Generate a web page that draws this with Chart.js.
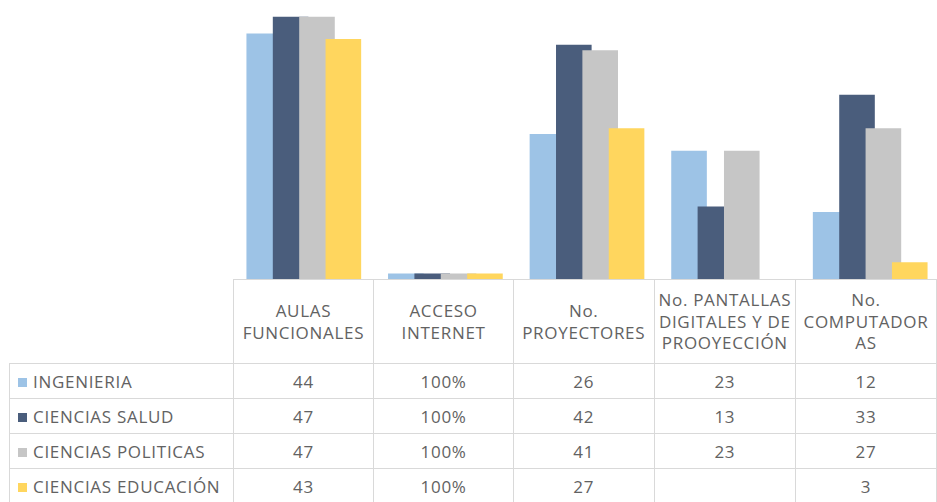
<!DOCTYPE html>
<html>
<head>
<meta charset="utf-8">
<script src="https://cdn.jsdelivr.net/npm/chart.js@4/dist/chart.umd.min.js"></script>
<style>
    html, body { margin: 0; padding: 0; background: #fff; overflow: hidden; }
    #wrap { position: relative; width: 937px; height: 502px; overflow: hidden; }
    #stockChart { position: absolute; left: 233px; top: 0; }
    #dataTable {
        position: absolute; left: 9px; top: 279px;
        border-collapse: collapse; table-layout: fixed;
        font-family: "Open Sans", sans-serif; font-size: 17px; letter-spacing: 0.7px;
        color: #626262;
    }
    #dataTable td { padding: 0; text-align: center; vertical-align: middle; border: 1px solid #d9d9d9; white-space: nowrap; }
    #dataTable tr.head td { height: 83px; line-height: 21.5px; }
    #dataTable tr.head td.corner { border-top: none; border-left: none; }
    #dataTable tr.row td { height: 34px; }
    #dataTable td.name { text-align: left; padding-left: 8px; }
    .sw { display: inline-block; width: 9px; height: 9px; margin-right: 6px; vertical-align: 1px; }
</style>
</head>
<body>
<div id="wrap">
    <canvas id="stockChart" width="708" height="279"></canvas>
    <table id="dataTable"></table>
</div>
<script>
    var categories = [
        ['AULAS', 'FUNCIONALES'],
        ['ACCESO', 'INTERNET'],
        ['No.', 'PROYECTORES'],
        ['No. PANTALLAS', 'DIGITALES Y DE', 'PROOYECCIÓN'],
        ['No.', 'COMPUTADOR', 'AS']
    ];
    // ACCESO INTERNET is a share: 1 = 100%
    var percentCategory = 1;

    var seriesNames = ['INGENIERIA', 'CIENCIAS SALUD', 'CIENCIAS POLITICAS', 'CIENCIAS EDUCACIÓN'];
    var ingenieria = [44, 1, 26, 23, 12];
    var cienciasSalud = [47, 1, 42, 13, 33];
    var cienciasPoliticas = [47, 1, 41, 23, 27];
    var cienciasEducacion = [43, 1, 27, null, 3];
    var seriesColors = ['#9dc3e6', '#4a5d7c', '#c6c6c6', '#ffd65e'];

    var yMax = 50;
    var colWidth = 141.6;

    var allSeries = [ingenieria, cienciasSalud, cienciasPoliticas, cienciasEducacion];

    function formatValue(v, idx) {
        if (v === null || v === undefined) return '';
        if (idx === percentCategory) return Math.round(v * 100) + '%';
        return String(v);
    }

    // excel style overlap: later series drawn on top
    var drawInOrder = {
        id: 'drawInOrder',
        beforeDatasetsDraw: function (chart) {
            for (var i = 0; i < chart.data.datasets.length; i++) {
                chart.getDatasetMeta(i).controller.draw();
            }
            return false;
        }
    };

    var ctx = document.getElementById('stockChart');
    new Chart(ctx, {
        type: 'bar',
        data: {
            labels: categories.map(function (c) { return c.join(' '); }),
            datasets: allSeries.map(function (values, i) {
                return {
                    label: seriesNames[i],
                    data: values,
                    backgroundColor: seriesColors[i],
                    borderWidth: 0,
                    categoryPercentage: 0.745,
                    barPercentage: 1.35
                };
            })
        },
        options: {
            responsive: false,
            animation: false,
            layout: { padding: 0 },
            plugins: {
                legend: { display: false },
                tooltip: { enabled: false }
            },
            scales: {
                x: { display: false },
                y: { display: false, min: 0, max: yMax }
            }
        },
        plugins: [drawInOrder]
    });

    // data table under the chart
    var table = document.getElementById('dataTable');
    var html = '<colgroup><col style="width:224px">';
    categories.forEach(function () { html += '<col style="width:' + colWidth + 'px">'; });
    html += '</colgroup><tr class="head"><td class="corner"></td>';
    categories.forEach(function (c) { html += '<td>' + c.join('<br>') + '</td>'; });
    html += '</tr>';
    allSeries.forEach(function (values, i) {
        html += '<tr class="row"><td class="name"><span class="sw" style="background:' + seriesColors[i] + '"></span>' + seriesNames[i] + '</td>';
        values.forEach(function (v, j) { html += '<td>' + formatValue(v, j) + '</td>'; });
        html += '</tr>';
    });
    table.innerHTML = html;
</script>
</body>
</html>
